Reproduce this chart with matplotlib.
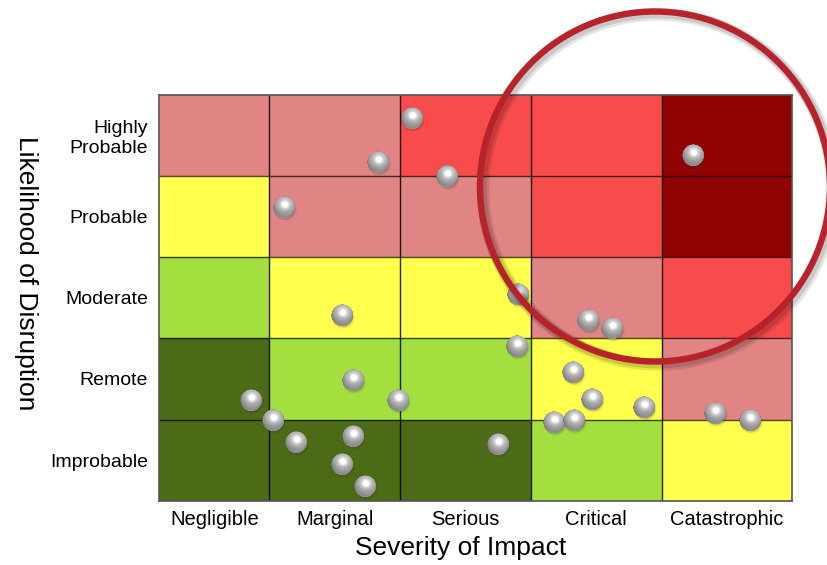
import numpy as np
import matplotlib
matplotlib.use("Agg")
import matplotlib.pyplot as plt
from matplotlib.patches import Rectangle, Circle
from matplotlib.offsetbox import OffsetImage, AnnotationBbox

plt.rcParams['font.family'] = ['Liberation Sans', 'DejaVu Sans']

# ---------------- data ----------------
severity_labels = ["Negligible", "Marginal", "Serious", "Critical", "Catastrophic"]
likelihood_labels = ["Improbable", "Remote", "Moderate", "Probable", "Highly\nProbable"]

# risk level per cell, rows from Improbable (bottom) to Highly Probable (top)
# 0 dark green, 1 light green, 2 yellow, 3 pink, 4 red, 5 dark red
risk_levels = [
    [0, 0, 0, 1, 2],
    [0, 1, 1, 2, 3],
    [1, 2, 2, 3, 4],
    [2, 3, 3, 4, 5],
    [3, 3, 4, 4, 5],
]
level_colors = ["#4C6B16", "#A2DF3F", "#FFFF4D", "#E08484", "#F84B4B", "#920303"]

# risk positions (severity axis, likelihood axis), in cell units
risk_x = [2.095, 1.829, 4.243, 1.115, 2.364, 2.900, 1.560, 3.435, 3.619,
          2.892, 1.643, 3.325, 0.858, 1.987, 3.470, 3.868, 4.409, 4.676,
          1.031, 1.204, 1.638, 1.554, 1.732, 2.747, 3.180, 3.330]
risk_y = [4.709, 4.163, 4.249, 3.608, 3.990, 2.542, 2.275, 2.217, 2.123,
          1.897, 1.480, 1.585, 1.240, 1.232, 1.249, 1.150, 1.076, 0.994,
          0.985, 0.714, 0.788, 0.440, 0.172, 0.695, 0.966, 0.985]

# column edges (first column is narrower)
col_edges = [0.159, 1, 2, 3, 4, 5]
row_edges = [0, 1, 2, 3, 4, 5]

# ---------------- figure ----------------
W, H, DPI = 827, 565, 100
fig = plt.figure(figsize=(W / DPI, H / DPI), dpi=DPI)
fig.patch.set_facecolor("white")
ax = fig.add_axes([159.3 / W, 1 - 500.7 / H, 633 / W, 406 / H])
ax.set_xlim(col_edges[0], col_edges[-1])
ax.set_ylim(row_edges[0], row_edges[-1])

for r in range(5):
    for c in range(5):
        ax.add_patch(Rectangle((col_edges[c], row_edges[r]),
                               col_edges[c + 1] - col_edges[c], 1,
                               facecolor=level_colors[risk_levels[r][c]],
                               edgecolor="none", zorder=1))
for e in col_edges[1:-1]:
    ax.axvline(e, color="black", lw=1.0, alpha=0.85, zorder=2)
for e in row_edges[1:-1]:
    ax.axhline(e, color="black", lw=1.0, alpha=0.7, zorder=2)
for s in ax.spines.values():
    s.set_color("#555555")
    s.set_linewidth(1.2)

ax.set_xticks([(col_edges[i] + col_edges[i + 1]) / 2 for i in range(5)])
ax.set_xticklabels(severity_labels, fontsize=14.5)
ax.set_yticks([(row_edges[i] + row_edges[i + 1]) / 2 for i in range(5)])
ax.set_yticklabels(likelihood_labels, fontsize=14)
ax.tick_params(axis="both", length=0)
ax.tick_params(axis="x", pad=6.5)
ax.tick_params(axis="y", pad=8)

ax.set_xlabel("Severity of Impact", fontsize=19)
ax.xaxis.set_label_coords(0.4766, -0.088)
ax.set_ylabel("Likelihood of Disruption", fontsize=19, rotation=-90,
              va="center", ha="center")
ax.yaxis.set_label_coords(-0.2106, 0.561)


# ---------------- sphere sprite ----------------
def sphere_sprite(n=96, R=36.0, cx=44.0, cy=44.0):
    yy, xx = np.mgrid[0:n, 0:n].astype(float) + 0.5
    dx = (xx - cx) / R
    dy = (cy - yy) / R
    r = np.sqrt(dx ** 2 + dy ** 2)
    nz = np.sqrt(np.clip(1 - r ** 2, 0, 1))
    L = np.array([0.12, 0.5, 0.86]); L /= np.linalg.norm(L)
    Hh = L + np.array([0, 0, 1.0]); Hh /= np.linalg.norm(Hh)
    diff = np.clip(dx * L[0] + dy * L[1] + nz * L[2], 0, 1)
    spec = np.clip(dx * Hh[0] + dy * Hh[1] + nz * Hh[2], 0, 1)
    rim = np.clip(-dy, 0, 1) ** 2 * r ** 2
    g = np.clip(0.47 + 0.30 * diff + 0.28 * spec ** 12 + 0.5 * spec ** 60
                + 0.14 * rim, 0, 1)
    a_s = np.clip((1 - r) * R + 0.5, 0, 1)
    # shadow
    sx, sy = cx + 3.0, cy + 6.0
    d = np.sqrt((xx - sx) ** 2 + (yy - sy) ** 2)
    a_sh = 0.40 * np.clip((R + 5 - d) / 14.0, 0, 1) ** 1.5
    a = a_s + a_sh * (1 - a_s)
    col = (g * a_s + 0.15 * a_sh * (1 - a_s)) / np.maximum(a, 1e-6)
    img = np.zeros((n, n, 4))
    img[..., 0] = col
    img[..., 1] = col
    img[..., 2] = col
    img[..., 3] = a
    return img, (cx / n, 1 - cy / n)


sprite, align = sphere_sprite()
for x, y in zip(risk_x, risk_y):
    im = OffsetImage(sprite, zoom=0.215)
    ab = AnnotationBbox(im, (x, y), xycoords="data", frameon=False, pad=0,
                        box_alignment=align, annotation_clip=False)
    ab.set_zorder(5)
    ax.add_artist(ab)

# ---------------- highlight circle ----------------
cxi, cyi, ri = 655 / DPI, (H - 186.5) / DPI, 175 / DPI
for off, lw, al in [(3, 9, 0.10), (2, 7, 0.12)]:
    fig.patches.append(Circle((cxi + off / DPI, cyi - off / DPI), ri,
                              transform=fig.dpi_scale_trans, fill=False,
                              edgecolor="black", lw=lw, alpha=al, zorder=8))
fig.patches.append(Circle((cxi, cyi), ri, transform=fig.dpi_scale_trans,
                          fill=False, edgecolor="#B8232B", lw=4.6, zorder=9))

fig.savefig("out.png", dpi=DPI, facecolor="white")
